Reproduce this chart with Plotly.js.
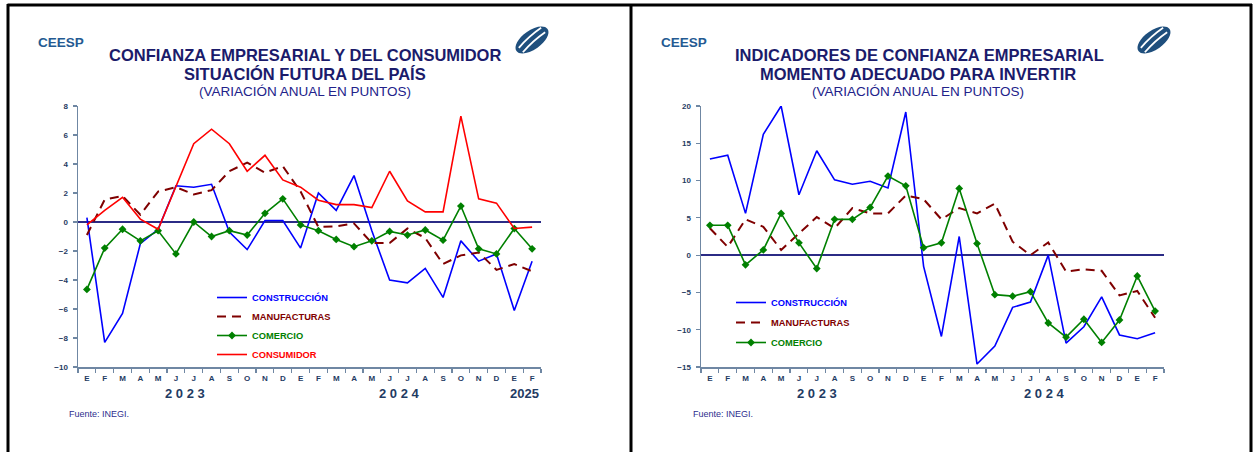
<!DOCTYPE html>
<html>
<head>
<meta charset="utf-8">
<script src="https://cdn.plot.ly/plotly-3.0.1.min.js"></script>
<style>html,body{margin:0;padding:0;background:#fff;}#chart{width:1259px;height:452px;}</style>
</head>
<body>
<div id="chart"></div>
<script>
// ---- data ----
const months = ['E','F','M','A','M','J','J','A','S','O','N','D','E','F','M','A','M','J','J','A','S','O','N','D','E','F'];
const years  = [2023,2023,2023,2023,2023,2023,2023,2023,2023,2023,2023,2023,2024,2024,2024,2024,2024,2024,2024,2024,2024,2024,2024,2024,2025,2025];

// Left: Situación futura del país
const construccionL = [0.3,-8.3,-6.3,-1.5,-0.5,2.5,2.4,2.6,-0.7,-1.9,0.1,0.1,-1.8,2.0,0.8,3.2,-0.6,-4.0,-4.2,-3.2,-5.2,-1.3,-2.7,-2.2,-6.1,-2.7];
const manufacturasL = [-0.9,1.55,1.8,0.5,2.1,2.4,1.9,2.2,3.5,4.1,3.4,3.85,2.1,-0.35,-0.3,-0.1,-1.45,-1.45,-0.45,-1.1,-2.9,-2.3,-2.1,-3.3,-2.9,-3.4];
const comercioL     = [-4.65,-1.8,-0.5,-1.3,-0.6,-2.2,0.0,-1.0,-0.6,-0.9,0.6,1.6,-0.2,-0.6,-1.2,-1.7,-1.3,-0.65,-0.9,-0.55,-1.25,1.1,-1.85,-2.2,-0.45,-1.85];
const consumidorL   = [-0.2,0.8,1.7,0.2,-0.5,2.4,5.4,6.4,5.4,3.5,4.6,2.9,2.4,1.5,1.2,1.2,1.0,3.5,1.45,0.7,0.7,7.3,1.6,1.3,-0.45,-0.35];

// Right: Momento adecuado para invertir
const construccionR = [12.9,13.4,5.6,16.2,20.0,8.1,14.0,10.1,9.5,9.9,9.0,19.2,-1.5,-10.9,2.5,-14.6,-12.2,-7.0,-6.3,0.0,-11.8,-9.6,-5.6,-10.7,-11.2,-10.4];
const manufacturasR = [3.6,1.1,4.8,3.8,0.7,2.9,5.1,3.6,6.3,5.6,5.6,8.0,7.5,4.8,6.3,5.6,6.9,1.8,0.0,1.7,-2.2,-1.9,-2.1,-5.4,-4.8,-8.4];
const comercioR     = [4.0,4.0,-1.3,0.7,5.6,1.65,-1.8,4.8,4.8,6.4,10.6,9.3,1.0,1.65,8.95,1.55,-5.3,-5.5,-4.9,-9.1,-11.0,-8.6,-11.7,-8.7,-2.8,-7.5];

const seriesNames = ['CONSTRUCCIÓN','MANUFACTURAS','COMERCIO','CONSUMIDOR'];
const yearLabelsL = ['2 0 2 3','2 0 2 4','2025'];
const yearLabelsR = ['2 0 2 3','2 0 2 4'];

// ---- styling ----
const W = 1259, H = 452;
const FONT = 'Liberation Sans, Arial, sans-serif';
const cats = months.map((m,i)=> m + ' ' + years[i] + ' #' + i);
const axisCol = '#6f87a3';
const tickCol = '#1f3b63';
const navy = '#1b1b6b';
const cBlue = '#0000ff', cDark = '#7f0000', cGreen = '#008000', cRed = '#ff0000';

const px = x => x / W;
const py = y => 1 - y / H;

function lineTrace(y, name, color, xa, ya, leg, opts) {
  const t = {
    type: 'scatter', mode: 'lines', x: cats, y: y,
    name: '<span style="color:' + color + '">' + name + '</span>',
    line: {color: color, width: 1.6},
    xaxis: xa, yaxis: ya, legend: leg, legendgroup: leg + name,
    hoverinfo: 'skip'
  };
  return Object.assign(t, opts || {});
}

const traces = [
  lineTrace(construccionL, seriesNames[0], cBlue, 'x', 'y', 'legend'),
  lineTrace(manufacturasL, seriesNames[1], cDark, 'x', 'y', 'legend', {line:{color:cDark,width:2,dash:'9px,6px'}}),
  lineTrace(comercioL, seriesNames[2], cGreen, 'x', 'y', 'legend', {mode:'lines+markers', marker:{symbol:'diamond', size:6, color:cGreen}}),
  lineTrace(consumidorL, seriesNames[3], cRed, 'x', 'y', 'legend'),
  lineTrace(construccionR, seriesNames[0], cBlue, 'x2', 'y2', 'legend2'),
  lineTrace(manufacturasR, seriesNames[1], cDark, 'x2', 'y2', 'legend2', {line:{color:cDark,width:2,dash:'9px,6px'}}),
  lineTrace(comercioR, seriesNames[2], cGreen, 'x2', 'y2', 'legend2', {mode:'lines+markers', marker:{symbol:'diamond', size:6, color:cGreen}})
];

function xAxis(domain, anchor) {
  return {
    domain: domain, anchor: anchor, type: 'category',
    categoryorder: 'array', categoryarray: cats,
    range: [-0.5, cats.length - 0.5],
    tickmode: 'array', tickvals: cats, ticktext: months,
    tickson: 'boundaries', ticks: 'outside', ticklen: 4, tickwidth: 1.2, tickcolor: axisCol,
    ticklabelstandoff: 3,
    showline: true, linecolor: axisCol, linewidth: 1.5,
    showgrid: false, zeroline: false,
    tickfont: {family: FONT, size: 8, color: tickCol, weight: 'bold'},
    fixedrange: true
  };
}
function yAxis(domain, anchor, range, dtick) {
  return {
    domain: domain, anchor: anchor, range: range, dtick: dtick, tick0: 0,
    ticks: 'outside', ticklen: 4, tickwidth: 1.2, tickcolor: axisCol,
    ticklabelstandoff: 3,
    showline: true, linecolor: axisCol, linewidth: 1.5,
    showgrid: false, zeroline: true, zerolinecolor: '#2b2b85', zerolinewidth: 1.3,
    tickfont: {family: FONT, size: 8, color: tickCol, weight: 'bold'},
    fixedrange: true
  };
}

const yDom = [py(367), py(106)];

function ann(text, x, y, size, color, opts) {
  return Object.assign({
    text: text, x: px(x), y: py(y), xref: 'paper', yref: 'paper',
    showarrow: false, xanchor: 'center', yanchor: 'middle',
    font: {family: FONT, size: size, color: color}
  }, opts || {});
}
const bold = (size, color) => ({family: FONT, size: size, color: color, weight: 'bold'});

const annotations = [
  ann('CEESP', 36, 42, 14, '#245a92', {xanchor:'left', font:bold(13.5,'#245a92')}),
  ann('CONFIANZA EMPRESARIAL Y DEL CONSUMIDOR', 305, 55, 16.5, navy, {font:bold(16.5,navy)}),
  ann('SITUACIÓN FUTURA DEL PAÍS', 305, 73.5, 16.5, navy, {font:bold(16.5,navy)}),
  ann('(VARIACIÓN ANUAL EN PUNTOS)', 305, 92, 13.5, '#22228a'),
  ann('Fuente: INEGI.', 67, 414, 9, '#2e2e8e', {xanchor:'left'}),
  ann('CEESP', 659, 42, 14, '#245a92', {xanchor:'left', font:bold(13.5,'#245a92')}),
  ann('INDICADORES DE CONFIANZA EMPRESARIAL', 919, 55, 16.5, navy, {font:bold(16.5,navy)}),
  ann('MOMENTO ADECUADO PARA INVERTIR', 918, 73.5, 16.5, navy, {font:bold(16.5,navy)}),
  ann('(VARIACIÓN ANUAL EN PUNTOS)', 918, 92, 13.5, '#22228a'),
  ann('Fuente: INEGI.', 691, 414, 9, '#2e2e8e', {xanchor:'left'})
];
// year labels placed on the category axes
const yearPosL = [5.5, 17.55, 24.6];
yearLabelsL.forEach((t,i)=> annotations.push({text:t, xref:'x', yref:'paper', x:yearPosL[i], y:py(393), showarrow:false, yanchor:'middle', font:bold(13,tickCol)}));
const yearPosR = [6.0, 18.8];
yearLabelsR.forEach((t,i)=> annotations.push({text:t, xref:'x2', yref:'paper', x:yearPosR[i], y:py(393), showarrow:false, yanchor:'middle', font:bold(13,tickCol)}));

// ---- decorative shapes: panel borders and logos ----
const shapes = [];
const border = {type:'line', xref:'paper', yref:'paper', line:{color:'#000', width:3}};
shapes.push(Object.assign({}, border, {x0:px(7.5), x1:px(1252), y0:py(5), y1:py(5)}));
shapes.push(Object.assign({}, border, {x0:px(8), x1:px(8), y0:py(4), y1:py(460)}));
shapes.push(Object.assign({}, border, {x0:px(631), x1:px(631), y0:py(4), y1:py(460)}));
shapes.push(Object.assign({}, border, {x0:px(1251), x1:px(1251), y0:py(4), y1:py(460)}));

function rotPt(cx, cy, x, y, th) {
  return [cx + x*Math.cos(th) - y*Math.sin(th), cy + x*Math.sin(th) + y*Math.cos(th)];
}
function ellipsePath(cx, cy, rx, ry, deg) {
  const th = deg*Math.PI/180, k = 0.5523;
  const seq = [[rx,0],[rx,k*ry],[k*rx,ry],[0,ry],[-k*rx,ry],[-rx,k*ry],[-rx,0],[-rx,-k*ry],[-k*rx,-ry],[0,-ry],[k*rx,-ry],[rx,-k*ry],[rx,0]];
  const p = seq.map(s => rotPt(cx, cy, s[0], s[1], th)).map(q => px(q[0]).toFixed(5) + ',' + py(q[1]).toFixed(5));
  let d = 'M' + p[0];
  for (let i = 1; i < p.length; i += 3) d += ' C' + p[i] + ' ' + p[i+1] + ' ' + p[i+2];
  return d + ' Z';
}
function stripePath(cx, cy, off, len, bend, deg) {
  const th = deg*Math.PI/180;
  const a = rotPt(cx, cy, -len, off, th), b = rotPt(cx, cy, 0, off - bend, th), c = rotPt(cx, cy, len, off, th);
  return 'M' + px(a[0]).toFixed(5) + ',' + py(a[1]).toFixed(5) + ' Q' + px(b[0]).toFixed(5) + ',' + py(b[1]).toFixed(5) + ' ' + px(c[0]).toFixed(5) + ',' + py(c[1]).toFixed(5);
}
[[532,40],[1154,40]].forEach(c => {
  shapes.push({type:'path', xref:'paper', yref:'paper', path: ellipsePath(c[0], c[1], 19, 9.5, -35), fillcolor:'#1f4f7d', line:{width:0}});
  shapes.push({type:'path', xref:'paper', yref:'paper', path: stripePath(c[0], c[1], -3, 15, 2, -42), line:{color:'#fff', width:1.8}});
  shapes.push({type:'path', xref:'paper', yref:'paper', path: stripePath(c[0], c[1], 3, 15, 2, -42), line:{color:'#fff', width:1.8}});
});

const legendBase = {
  xanchor:'left', yanchor:'top', bgcolor:'rgba(0,0,0,0)', borderwidth:0,
  font:{family:FONT, size:9.3, weight:'bold'}, traceorder:'grouped', itemwidth:30
};

const layout = {
  width: W, height: H,
  margin: {l:0, r:0, t:0, b:0},
  paper_bgcolor: '#fff', plot_bgcolor: '#fff',
  font: {family: FONT},
  showlegend: true,
  xaxis: xAxis([px(78), px(541)], 'y'),
  yaxis: yAxis(yDom, 'x', [-10, 8], 2),
  xaxis2: xAxis([px(701), px(1164)], 'y2'),
  yaxis2: yAxis(yDom, 'x2', [-15, 20], 5),
  legend: Object.assign({}, legendBase, {x:px(212), y:py(283), tracegroupgap:0}),
  legend2: Object.assign({}, legendBase, {x:px(731), y:py(288), tracegroupgap:1}),
  annotations: annotations,
  shapes: shapes
};

Plotly.newPlot('chart', traces, layout, {staticPlot: true, displayModeBar: false});
</script>
</body>
</html>
